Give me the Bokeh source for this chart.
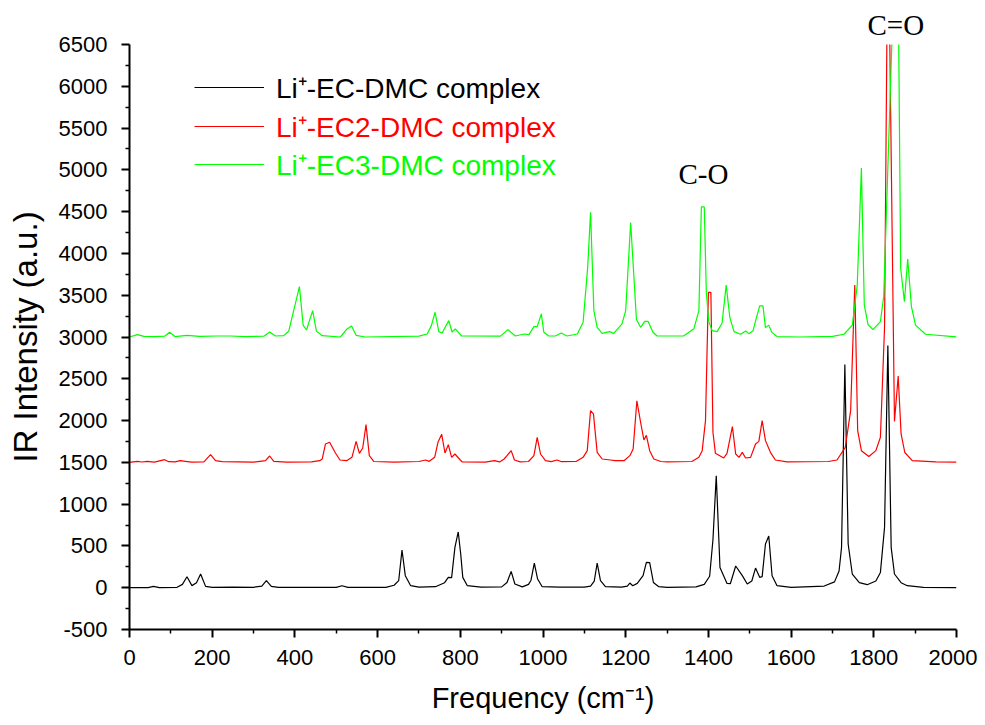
from bokeh.plotting import figure
from bokeh.models import Legend, LegendItem, Label, Range1d, FixedTicker
from bokeh.embed import file_html
from bokeh.resources import INLINE

# ---- data (red offset +1500, green offset +3000 as plotted) ----
black_x = [0, 45, 58, 72, 115, 128, 139, 151, 162, 172, 184, 200, 250, 300, 320, 331, 343, 360, 500, 514, 528,
           620, 640, 651, 659, 667, 680, 700, 740, 762, 771, 779, 787, 795, 801, 806, 817, 850, 900, 913, 923, 932,
           950, 965, 971, 979, 987, 998, 1040, 1100, 1115, 1124, 1131, 1139, 1151, 1190, 1204, 1210, 1217, 1228,
           1242, 1250, 1258, 1267, 1280, 1300, 1370, 1390, 1403, 1411, 1419, 1428, 1445, 1453, 1466, 1482, 1494,
           1505, 1514, 1524, 1530, 1538, 1546, 1554, 1566, 1600, 1680, 1705, 1716, 1722, 1730, 1738, 1748, 1765,
           1784, 1805, 1816, 1826, 1834, 1842, 1850, 1866, 1881, 1920, 2000]
black_y = [0, 2, 16, 2, 5, 40, 132, 25, 60, 164, 16, 3, 8, 5, 20, 84, 16, 3, 5, 24, 4,
           5, 30, 84, 451, 144, 24, 8, 12, 60, 124, 120, 483, 667, 403, 124, 24, 8, 10, 63, 195, 44,
           10, 40, 90, 295, 104, 12, 6, 8, 20, 80, 295, 84, 12, 8, 20, 56, 24, 52,
           144, 304, 300, 63, 12, 5, 10, 40, 137, 574, 1340, 243, 51, 48, 260, 144, 44,
           80, 235, 124, 132, 523, 619, 144, 24, 5, 20, 70, 200, 483, 2670, 523, 164, 60,
           36, 80, 183, 722, 2897, 483, 164, 60, 24, 5, 0]

red_x = [0, 19, 30, 43, 60, 85, 95, 110, 123, 135, 150, 180, 196, 208, 224, 300, 329, 339, 349, 380, 440, 460,
         466, 474, 484, 498, 509, 525, 538, 548, 556, 564, 572, 580, 591, 640, 700, 716, 725, 738, 746, 755, 763,
         771, 779, 787, 800, 805, 860, 883, 895, 906, 913, 923, 931, 945, 965, 978, 986, 994, 1006, 1020, 1034,
         1045, 1080, 1097, 1107, 1115, 1122, 1131, 1143, 1163, 1175, 1196, 1210, 1218, 1227, 1236, 1244, 1250,
         1258, 1268, 1285, 1300, 1360, 1377, 1385, 1393, 1400, 1406, 1411, 1417, 1437, 1445, 1458, 1466, 1474,
         1482, 1490, 1502, 1514, 1522, 1530, 1538, 1550, 1562, 1590, 1690, 1711, 1731, 1744, 1754, 1761, 1770,
         1788, 1805, 1816, 1826, 1832, 1838, 1850, 1859, 1866, 1875, 1893, 1950, 2000]
red_y = [1500, 1512, 1504, 1512, 1502, 1532, 1508, 1505, 1520, 1512, 1502, 1505, 1592, 1520, 1508, 1502, 1520,
         1576, 1512, 1502, 1505, 1520, 1540, 1720, 1740, 1612, 1528, 1520, 1560, 1751, 1608, 1672, 1951, 1580,
         1510, 1502, 1510, 1528, 1512, 1560, 1740, 1835, 1612, 1712, 1560, 1600, 1528, 1505, 1502, 1520, 1505,
         1540, 1580, 1640, 1528, 1505, 1510, 1580, 1800, 1600, 1520, 1508, 1528, 1508, 1510, 1560, 1640, 2119,
         2079, 1620, 1540, 1528, 1520, 1520, 1580, 1660, 2237, 1980, 1768, 1823, 1640, 1540, 1510, 1505, 1510,
         1560, 1640, 2000, 3535, 3535, 1860, 1608, 1552, 1608, 1927, 1600, 1560, 1620, 1552, 1560, 1720, 1751,
         2000, 1760, 1620, 1528, 1505, 1510, 1528, 1680, 2119, 3621, 1880, 1640, 1570, 1640, 1800, 3116, 6800,
         6800, 1988, 2532, 1840, 1618, 1520, 1505, 1502]

green_x = [0, 19, 35, 60, 85, 97, 110, 139, 170, 212, 244, 280, 325, 339, 353, 373, 385, 397, 401, 411, 420,
           428, 443, 452, 466, 510, 526, 537, 548, 570, 700, 720, 730, 739, 748, 756, 772, 780, 788, 803, 897,
           915, 933, 955, 966, 978, 986, 996, 1002, 1014, 1030, 1044, 1058, 1083, 1097, 1108, 1115, 1123, 1131,
           1143, 1161, 1171, 1191, 1200, 1212, 1226, 1236, 1246, 1254, 1266, 1276, 1340, 1365, 1377, 1383, 1390,
           1395, 1401, 1409, 1421, 1433, 1443, 1452, 1462, 1478, 1490, 1498, 1508, 1516, 1524, 1532, 1538, 1546,
           1554, 1566, 1620, 1700, 1728, 1748, 1760, 1770, 1777, 1786, 1798, 1816, 1824, 1852, 1858, 1865, 1874,
           1882, 1891, 1901, 1925, 2000]
green_y = [3000, 3028, 3008, 3005, 3010, 3056, 3005, 3020, 3008, 3012, 3012, 3005, 3010, 3060, 3012, 3016,
           3068, 3316, 3396, 3603, 3140, 3084, 3316, 3070, 3016, 3000, 3096, 3132, 3020, 3000, 3010, 3036, 3136,
           3296, 3064, 3048, 3196, 3060, 3096, 3012, 3010, 3088, 3012, 3036, 3028, 3124, 3124, 3276, 3056, 3012,
           3012, 3048, 3012, 3036, 3176, 3830, 4493, 3316, 3116, 3044, 3064, 3044, 3156, 3316, 4369, 3210, 3116,
           3188, 3188, 3056, 3012, 3012, 3100, 3316, 4556, 4556, 3533, 3184, 3076, 3064, 3164, 3621, 3228, 3064,
           3033, 3072, 3040, 3076, 3228, 3372, 3372, 3112, 3142, 3052, 3005, 3000, 3008, 3033, 3142, 3621, 5022,
           3381, 3150, 3088, 3184, 3489, 7800, 7800, 3819, 3423, 3933, 3363, 3142, 3033, 3002]

series_names = ["Li\u207a-EC-DMC complex", "Li\u207a-EC2-DMC complex", "Li\u207a-EC3-DMC complex"]
series_colors = ["#000000", "#ff0000", "#00ff00"]

x_ticks = [0, 200, 400, 600, 800, 1000, 1200, 1400, 1600, 1800, 2000]
x_minor = [100, 300, 500, 700, 900, 1100, 1300, 1500, 1700, 1900]
y_ticks = [-500, 0, 500, 1000, 1500, 2000, 2500, 3000, 3500, 4000, 4500, 5000, 5500, 6000, 6500]
y_minor = [-250, 250, 750, 1250, 1750, 2250, 2750, 3250, 3750, 4250, 4750, 5250, 5750, 6250]

co_label = ("C-O", 1388, 4956)
c_eq_o_label = "C=O"

serif = "'Liberation Serif', 'Times New Roman', serif"
font = "'Liberation Sans', Arial, sans-serif"

# ---- figure ----
p = figure(width=977, height=717, output_backend="svg", toolbar_location=None,
           x_range=Range1d(0, 2000), y_range=Range1d(-500, 6500),
           min_border_left=129, min_border_right=21, min_border_top=44, min_border_bottom=88,
           title=c_eq_o_label)
p.outline_line_color = None
p.grid.visible = False
p.background_fill_color = "white"

p.title.align = "left"
p.title.offset = 738
p.title.text_font = serif
p.title.text_font_size = "29px"
p.title.text_font_style = "normal"
p.title.text_color = "black"
p.title.standoff = 8

renderers = []
for xs, ys, c in [(black_x, black_y, series_colors[0]), (red_x, red_y, series_colors[1]),
                  (green_x, green_y, series_colors[2])]:
    renderers.append(p.line(xs, ys, line_color=c, line_width=1.2))

for ax, ticks, minor in [(p.xaxis[0], x_ticks, x_minor), (p.yaxis[0], y_ticks, y_minor)]:
    ax.ticker = FixedTicker(ticks=ticks, minor_ticks=minor)
    ax.axis_line_width = 2
    ax.major_tick_line_width = 2
    ax.minor_tick_line_width = 1.5
    ax.major_tick_in = 0
    ax.major_tick_out = 8
    ax.minor_tick_in = 0
    ax.minor_tick_out = 4
    ax.major_label_text_font = font
    ax.major_label_text_font_size = "22px"
    ax.major_label_text_color = "black"
    ax.axis_label_text_font = font
    ax.axis_label_text_font_style = "normal"
    ax.axis_label_text_color = "black"

p.yaxis.major_label_overrides = {-500: "-500"}
p.xaxis.major_label_standoff = 12
p.yaxis.major_label_standoff = 14
p.xaxis.axis_label = "Frequency (cm\u207b\u00b9)"
p.xaxis.axis_label_text_font_size = "29px"
p.xaxis.axis_label_standoff = 14
p.yaxis.axis_label = "IR Intensity (a.u.)"
p.yaxis.axis_label_text_font_size = "33px"
p.yaxis.axis_label_standoff = 12

# legend: one legend per entry so each label keeps its own colour
legend_tops = [523, 484, 446]
for r, name, c, vy in zip(renderers, series_names, series_colors, legend_tops):
    lg = Legend(items=[LegendItem(label=name, renderers=[r])], location=(65, vy),
                label_text_color=c, label_text_font=font, label_text_font_size="28px",
                glyph_width=70, glyph_height=20, label_standoff=12, padding=0, margin=0, spacing=0,
                border_line_color=None, background_fill_alpha=0)
    p.add_layout(lg, "center")

txt, xv, yv = co_label
p.add_layout(Label(x=xv, y=yv, text=txt, text_align="center", text_baseline="middle",
                   text_font=serif, text_font_size="29px", text_color="black"))

open("out.html", "w").write(file_html(p, INLINE))
